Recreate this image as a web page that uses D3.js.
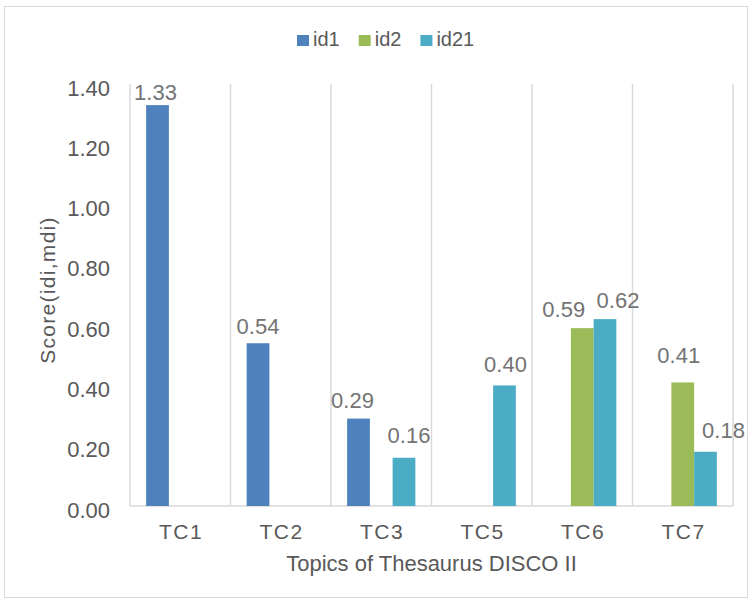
<!DOCTYPE html>
<html>
<head>
<meta charset="utf-8">
<script src="https://cdn.jsdelivr.net/npm/d3@7/dist/d3.min.js"></script>
<style>
  html, body { margin: 0; padding: 0; background: #fff; }
  svg { display: block; font-family: "Liberation Sans", Arial, sans-serif; }
</style>
</head>
<body>
<svg id="chart" width="751" height="603"></svg>
<script>
// Topics and the three score series (null = no bar for that topic)
const categories = ["TC1", "TC2", "TC3", "TC5", "TC6", "TC7"];
const seriesNames = ["id1", "id2", "id21"];
const id1  = [1.33, 0.54, 0.29, null, null, null];
const id2  = [null, null, null, null, 0.59, 0.41];
const id21 = [null, null, 0.16, 0.40, 0.62, 0.18];
const yTicks = [0, 0.2, 0.4, 0.6, 0.8, 1.0, 1.2, 1.4];
const colors = ["#4F81BD", "#9BBB59", "#4BACC6"];

const series = [id1, id2, id21];

// hand-placed value labels: [dx, gap above bar top] per series and topic
const labelPlacement = {
  id1:  [[-2, 5], [0, 9], [-6, 10.5], null, null, null],
  id2:  [null, null, null, null, [-18.5, 11], [-4, 19]],
  id21: [null, null, [5, 15], [1, 13], [13, 11], [18, 13.5]]
};

const svg = d3.select("#chart");
const plot = { left: 130, right: 733, top: 84, bottom: 506 };

// outer chart frame
svg.append("rect")
  .attr("x", 4.5).attr("y", 6.5).attr("width", 743).attr("height", 591)
  .attr("fill", "#fff").attr("stroke", "#d9d9d9").attr("stroke-width", 1);

const x0 = d3.scaleBand().domain(categories).range([plot.left, plot.right])
  .paddingInner(0).paddingOuter(0);
const x1 = d3.scaleBand().domain(seriesNames).range([0, x0.bandwidth()])
  .paddingInner(0).paddingOuter(0.71);
const y = d3.scaleLinear().domain([0, 1.4]).range([plot.bottom, plot.top]);

// vertical separators between topics
const bounds = categories.map(c => x0(c)).concat([plot.right]);
svg.append("g").selectAll("line").data(bounds).join("line")
  .attr("x1", d => d).attr("x2", d => d)
  .attr("y1", plot.top).attr("y2", plot.bottom)
  .attr("stroke", "#d9d9d9").attr("stroke-width", 1.5);

// category baseline
svg.append("line")
  .attr("x1", plot.left).attr("x2", plot.right)
  .attr("y1", plot.bottom).attr("y2", plot.bottom)
  .attr("stroke", "#d9d9d9").attr("stroke-width", 1.5);

// y axis labels
const yAxis = d3.axisLeft(y).tickValues(yTicks).tickFormat(d3.format(".2f"))
  .tickSize(0).tickPadding(0);
const yg = svg.append("g").attr("transform", `translate(110,0)`).call(yAxis);
yg.select(".domain").remove();
yg.selectAll("text")
  .attr("font-family", "Liberation Sans, Arial, sans-serif")
  .attr("font-size", 22).attr("fill", "#595959")
  .attr("dy", "0.5em");

// x axis labels
const xAxis = d3.axisBottom(x0).tickSize(0).tickPadding(0);
const xg = svg.append("g").attr("transform", `translate(0,${plot.bottom})`).call(xAxis);
xg.select(".domain").remove();
xg.selectAll("text")
  .attr("font-family", "Liberation Sans, Arial, sans-serif")
  .attr("font-size", 21).attr("fill", "#595959")
  .attr("letter-spacing", "1.5px")
  .attr("dx", "0.75px")
  .attr("dy", 0).attr("y", 33);

// bars and value labels
const flat = [];
series.forEach((vals, si) => {
  vals.forEach((v, ci) => {
    if (v !== null) {
      const name = seriesNames[si];
      flat.push({ cat: categories[ci], name, value: v, si, place: labelPlacement[name][ci] || [0, 7] });
    }
  });
});

svg.append("g").selectAll("rect").data(flat).join("rect")
  .attr("x", d => x0(d.cat) + x1(d.name))
  .attr("width", x1.bandwidth())
  .attr("y", d => y(d.value))
  .attr("height", d => y(0) - y(d.value))
  .attr("fill", d => colors[d.si]);

svg.append("g").selectAll("text").data(flat).join("text")
  .attr("x", d => x0(d.cat) + x1(d.name) + x1.bandwidth() / 2 + d.place[0])
  .attr("y", d => y(d.value) - d.place[1])
  .attr("text-anchor", "middle")
  .attr("font-size", 22).attr("fill", "#737373")
  .text(d => d3.format(".2f")(d.value));

// axis titles
svg.append("text")
  .attr("x", (plot.left + plot.right) / 2).attr("y", 571)
  .attr("text-anchor", "middle")
  .attr("font-size", 22).attr("fill", "#595959")
  .text("Topics of Thesaurus DISCO II");

svg.append("text")
  .attr("transform", "translate(55,290) rotate(-90)")
  .attr("text-anchor", "middle")
  .attr("font-size", 21).attr("fill", "#595959")
  .attr("letter-spacing", "1.3px")
  .text("Score(idi,mdi)");

// legend
const legend = svg.append("g");
let lx = 297;
seriesNames.forEach((name, i) => {
  legend.append("rect")
    .attr("x", lx).attr("y", 35).attr("width", 12).attr("height", 11)
    .attr("fill", colors[i]);
  const t = legend.append("text")
    .attr("x", lx + 16).attr("y", 46)
    .attr("font-size", 20).attr("fill", "#595959")
    .text(name);
  lx += 16 + t.node().getComputedTextLength() + 19;
});
</script>
</body>
</html>
